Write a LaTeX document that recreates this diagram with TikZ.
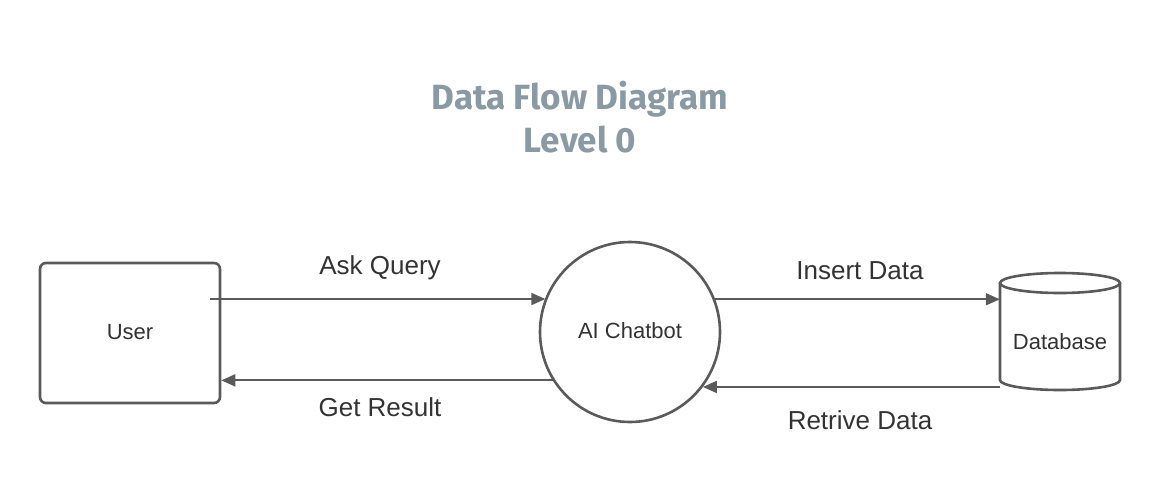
\documentclass[tikz,border=0pt]{standalone}
\usepackage{fontspec}
\setmainfont{Liberation Sans}
\newfontfamily\titlefont{Fira Sans}
\usetikzlibrary{arrows.meta}
\definecolor{linegray}{HTML}{5A5A5A}
\definecolor{txtgray}{HTML}{333333}
\definecolor{titlegray}{HTML}{8A9AA4}
\begin{document}
\begin{tikzpicture}[x=1pt,y=-1pt,
  shapeline/.style={draw=linegray, line width=2.6pt},
  flow/.style={draw=linegray, line width=1.8pt, -{Triangle[length=14pt,width=12pt]}},
  lbl/.style={text=txtgray, font=\fontsize{26}{30}\selectfont, inner sep=0pt},
  nodetxt/.style={text=txtgray, font=\fontsize{22}{26}\selectfont}]
\useasboundingbox (0,0) rectangle (1160,493);
\fill[white] (0,0) rectangle (1160,493);
% title
\node[text=titlegray, font=\titlefont\bfseries\fontsize{35}{40}\selectfont, inner sep=0pt] (t1) at (580,99) {Data Flow Diagram};
\node[text=titlegray, font=\titlefont\bfseries\fontsize{35}{40}\selectfont, inner sep=0pt] (t2) at (580,140) {Level 0};
% nodes
\node[shapeline, rounded corners=6pt, minimum width=180pt, minimum height=140pt, nodetxt, text depth=3pt] (user) at (130,333) {User};
\node[shapeline, circle, minimum size=180pt, nodetxt, inner sep=0pt, text depth=3pt] (bot) at (630,332) {AI Chatbot};
\node[minimum width=120pt, minimum height=117pt, inner sep=0pt] (db) at (1060,331.5) {};
\draw[shapeline] (1060,283) ellipse [x radius=60pt, y radius=10pt];
\draw[shapeline] (1000,283) -- (1000,380) arc[start angle=180, end angle=360, x radius=60pt, y radius=10pt] -- (1120,283);
\node[nodetxt] (dbtxt) at (1060,342) {Database};
% connectors
\coordinate (askS) at (210,299);
\draw[flow] (askS) -- (askS -| bot.158.5);
\draw[flow] (bot.212.3) -- (bot.212.3 -| user.east);
\draw[flow] (bot.21.5) -- (bot.21.5 -| db.west);
\draw[flow] (bot.323.9 -| db.west) -- (bot.323.9);
% labels
\node[lbl] (l1) at (380,268) {Ask Query};
\node[lbl] (l2) at (380,407) {Get Result};
\node[lbl] (l3) at (860,271) {Insert Data};
\node[lbl] (l4) at (860,420) {Retrive Data};
\end{tikzpicture}
\end{document}
